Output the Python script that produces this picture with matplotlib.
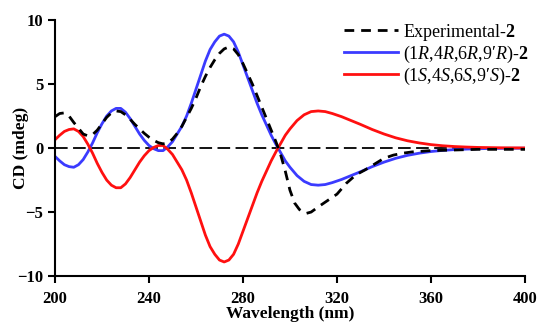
import numpy as np
import matplotlib
matplotlib.use("Agg")
import matplotlib.pyplot as plt

# Experimental CD spectrum
exp_nm = [200, 202, 204, 206, 208, 210, 212, 214, 216, 218, 220, 222, 224, 226,
          228, 230, 232, 234, 236, 238, 240, 242, 244, 246, 248, 250, 252, 254,
          256, 258, 260, 262, 264, 266, 268, 270, 272, 274, 276, 278, 280, 282,
          284, 286, 288, 290, 292, 294, 296, 298, 300, 302, 304, 306, 307, 309,
          312, 316, 320, 324, 328, 332, 336, 340, 344, 348, 352, 356, 360, 370,
          380, 390, 400]
exp_cd = [2.45, 2.7, 2.75, 2.5, 2.0, 1.55, 1.1, 0.95, 1.05, 1.4, 1.9, 2.4, 2.75, 2.9,
          2.85, 2.6, 2.25, 1.85, 1.5, 1.15, 0.85, 0.6, 0.42, 0.33, 0.4, 0.7, 1.15, 1.7,
          2.4, 3.1, 3.9, 4.8, 5.6, 6.3, 6.9, 7.4, 7.75, 7.9, 7.75, 7.3, 6.6, 5.8,
          5.0, 4.1, 3.2, 2.3, 1.4, 0.5, -0.5, -1.8, -3.3, -4.3, -4.8, -5.05, -5.1, -5.0,
          -4.6, -4.1, -3.6, -2.75, -2.1, -1.7, -1.25, -0.8, -0.55, -0.4, -0.3, -0.25, -0.2, -0.15,
          -0.1, -0.1, -0.1]

# Calculated ECD spectra of the two enantiomers
calc_nm = [200, 202, 204, 206, 208, 210, 212, 214, 216, 218, 220, 222, 224, 226,
           228, 230, 232, 234, 236, 238, 240, 242, 244, 246, 248, 250, 252, 254,
           256, 258, 260, 262, 264, 266, 268, 270, 272, 274, 276, 278, 280, 282,
           284, 286, 288, 290, 292, 294, 296, 298, 300, 303, 306, 309, 312, 315,
           318, 322, 326, 330, 335, 340, 345, 350, 355, 360, 365, 370, 375, 380,
           390, 400]
rrrr_cd = [-0.65, -1.0, -1.3, -1.45, -1.5, -1.3, -0.9, -0.3, 0.4, 1.2, 1.9, 2.5, 2.9, 3.1,
           3.1, 2.8, 2.3, 1.7, 1.1, 0.6, 0.2, -0.05, -0.2, -0.2, 0.1, 0.5, 1.1, 1.7,
           2.5, 3.5, 4.6, 5.7, 6.8, 7.7, 8.3, 8.75, 8.9, 8.75, 8.3, 7.5, 6.5, 5.5,
           4.5, 3.5, 2.6, 1.8, 1.0, 0.3, -0.35, -1.0, -1.5, -2.15, -2.6, -2.85, -2.9, -2.85,
           -2.7, -2.45, -2.15, -1.85, -1.45, -1.1, -0.8, -0.57, -0.4, -0.27, -0.18, -0.12, -0.08, -0.05,
           -0.02, -0.01]
ssss_cd = [0.65, 1.0, 1.3, 1.45, 1.5, 1.3, 0.9, 0.3, -0.4, -1.2, -1.9, -2.5, -2.9, -3.1,
           -3.1, -2.8, -2.3, -1.7, -1.1, -0.6, -0.2, 0.05, 0.2, 0.2, -0.1, -0.5, -1.1, -1.7,
           -2.5, -3.5, -4.6, -5.7, -6.8, -7.7, -8.3, -8.75, -8.9, -8.75, -8.3, -7.5, -6.5, -5.5,
           -4.5, -3.5, -2.6, -1.8, -1.0, -0.3, 0.35, 1.0, 1.5, 2.15, 2.6, 2.85, 2.9, 2.85,
           2.7, 2.45, 2.15, 1.85, 1.45, 1.1, 0.8, 0.57, 0.4, 0.27, 0.18, 0.12, 0.08, 0.05,
           0.02, 0.01]

x_ticks = [200, 240, 280, 320, 360, 400]
y_ticks = [-10, -5, 0, 5, 10]

plt.rcParams['font.family'] = ['Liberation Serif', 'DejaVu Serif']
plt.rcParams['mathtext.fontset'] = 'custom'
plt.rcParams['mathtext.rm'] = 'Liberation Serif'
plt.rcParams['mathtext.it'] = 'Liberation Serif:italic'
plt.rcParams['mathtext.bf'] = 'Liberation Serif:bold'

fig = plt.figure(figsize=(5.39, 3.24), dpi=100)
ax = fig.add_axes([0.102, 0.148, 0.872, 0.79])

ax.axhline(0, color='black', lw=1.3, ls=(0, (7, 3)), zorder=1)
ax.plot(calc_nm, rrrr_cd, color='#3b3bff', lw=2,
        label='(1$\\it{R}$,4$\\it{R}$,6$\\it{R}$,9\u2032$\\it{R}$)-$\\mathbf{2}$')
ax.plot(calc_nm, ssss_cd, color='#ff1010', lw=2,
        label='(1$\\it{S}$,4$\\it{S}$,6$\\it{S}$,9\u2032$\\it{S}$)-$\\mathbf{2}$')
ax.plot(exp_nm, exp_cd, color='black', lw=2, ls=(0, (3.5, 2.5)),
        label='Experimental-$\\mathbf{2}$')

ax.set_xlim(200, 400)
ax.set_ylim(-10, 10)
ax.set_xticks(x_ticks)
ax.set_yticks(y_ticks)
for s in ['top', 'right']:
    ax.spines[s].set_visible(False)
for s in ['left', 'bottom']:
    ax.spines[s].set_linewidth(1.5)
ax.tick_params(direction='out', width=1.5, length=5, labelsize=12)
ax.tick_params(axis='x', pad=6)
for lab in ax.get_xticklabels() + ax.get_yticklabels():
    lab.set_fontweight('bold')

ax.set_xlabel('Wavelength (nm)', fontsize=12.5, fontweight='bold')
ax.set_ylabel('CD (mdeg)', fontsize=12.5, fontweight='bold')
ax.yaxis.set_label_coords(-0.055, 0.5)
ax.xaxis.set_label_coords(0.5, -0.118)
ax.xaxis.label.set_va('top')

h, l = ax.get_legend_handles_labels()
order = [2, 0, 1]
ax.legend([h[i] for i in order], [l[i] for i in order], loc='upper right',
          bbox_to_anchor=(1.015, 1.008), frameon=False, fontsize=13,
          handlelength=3.0, handletextpad=0.25, labelspacing=0.05,
          borderaxespad=0.0, borderpad=0.2)

fig.savefig('out.png', dpi=100)
